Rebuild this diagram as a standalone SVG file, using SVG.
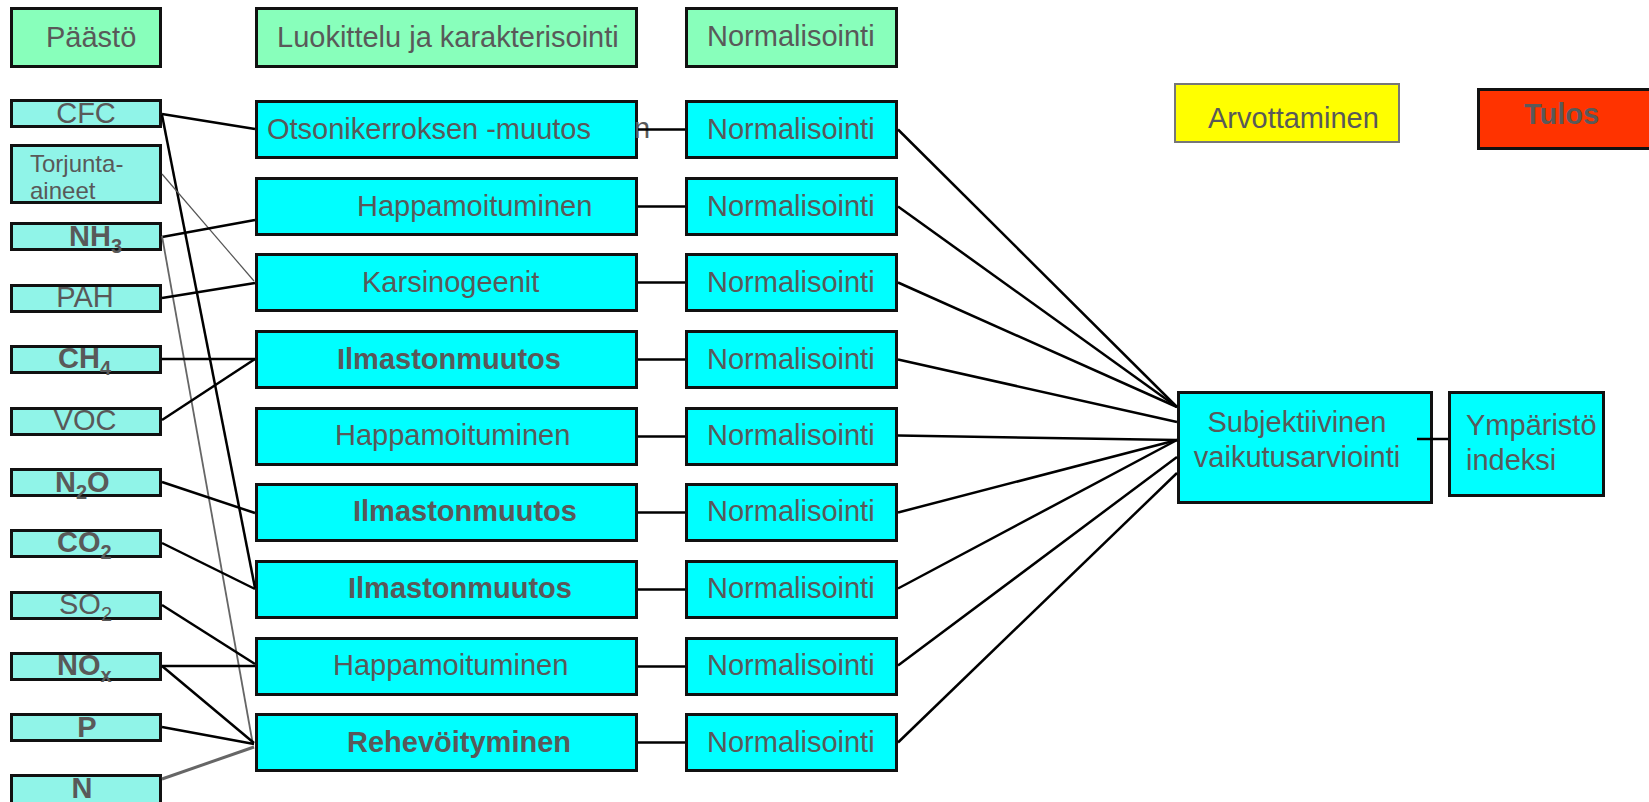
<svg xmlns="http://www.w3.org/2000/svg" width="1649" height="802" viewBox="0 0 1649 802">
<style>
text{font-family:"Liberation Sans",Arial,sans-serif;font-size:29px;fill:#595959}
.b{font-weight:bold}
.sub{font-size:20px}
.sm{font-size:24px}
.hdr{fill:#88FFBB;stroke:#111;stroke-width:3}
.em{fill:#90F4E8;stroke:#111;stroke-width:3}
.cy{fill:#00FFFF;stroke:#111;stroke-width:3}
.c{stroke:#000;stroke-width:2.5;fill:none}
.g1{stroke:#555;stroke-width:1.2;fill:none}
.g2{stroke:#666;stroke-width:1.8;fill:none}
.g3{stroke:#666;stroke-width:3;fill:none}
</style>
<rect width="1649" height="802" fill="#fff"/>
<g id="hdr-paasto"><rect class="hdr" x="11.5" y="8.5" width="149" height="58"/><text x="46" y="47">Päästö</text></g>
<g id="hdr-luokittelu"><rect class="hdr" x="256.5" y="8.5" width="380" height="58"/><text x="277" y="47">Luokittelu ja karakterisointi</text></g>
<g id="hdr-normalisointi"><rect class="hdr" x="686.5" y="8.5" width="210" height="58"/><text x="707" y="46">Normalisointi</text></g>
<g id="arvottaminen"><rect x="1175" y="84" width="224" height="58" fill="#FFFF00" stroke="#777" stroke-width="2"/><text x="1208" y="128">Arvottaminen</text></g>
<g id="tulos"><rect x="1478.5" y="89.5" width="190" height="59" fill="#FF3300" stroke="#111" stroke-width="3"/><text class="b" x="1524" y="124">Tulos</text></g>

<g id="e-cfc"><rect class="em" x="11.5" y="100.5" width="149" height="26"/><text x="86" y="123" text-anchor="middle">CFC</text></g>
<g id="e-torjunta"><rect class="em" x="11.5" y="145.5" width="149" height="57"/><text class="sm" x="30" y="172">Torjunta-</text><text class="sm" x="30" y="199">aineet</text></g>
<g id="e-nh3"><rect class="em" x="11.5" y="223.5" width="149" height="26"/><text class="b" x="69" y="246">NH<tspan class="sub" dy="7">3</tspan></text></g>
<g id="e-pah"><rect class="em" x="11.5" y="285.5" width="149" height="26"/><text x="85" y="307" text-anchor="middle">PAH</text></g>
<g id="e-ch4"><rect class="em" x="11.5" y="346.5" width="149" height="26"/><text class="b" x="58" y="368">CH<tspan class="sub" dy="7">4</tspan></text></g>
<g id="e-voc"><rect class="em" x="11.5" y="408.5" width="149" height="26"/><text x="85" y="430" text-anchor="middle">VOC</text></g>
<g id="e-n2o"><rect class="em" x="11.5" y="469.5" width="149" height="26"/><text class="b" x="55" y="492">N<tspan class="sub" dy="7">2</tspan><tspan dy="-7">O</tspan></text></g>
<g id="e-co2"><rect class="em" x="11.5" y="530.5" width="149" height="26"/><text class="b" x="57" y="552">CO<tspan class="sub" dy="7">2</tspan></text></g>
<g id="e-so2"><rect class="em" x="11.5" y="592.5" width="149" height="26"/><text x="59" y="614">SO<tspan class="sub" dy="7">2</tspan></text></g>
<g id="e-nox"><rect class="em" x="11.5" y="653.5" width="149" height="26"/><text class="b" x="57" y="675">NO<tspan class="sub" dy="7">x</tspan></text></g>
<g id="e-p"><rect class="em" x="11.5" y="714.5" width="149" height="26"/><text class="b" x="87" y="737" text-anchor="middle">P</text></g>
<g id="e-n"><rect class="em" x="11.5" y="775.5" width="149" height="40"/><text class="b" x="82" y="798" text-anchor="middle">N</text></g>

<g id="c1"><rect class="cy" x="256.5" y="101.5" width="380" height="56"/><text x="267" y="139">Otsonikerroksen -muutos</text><text x="634" y="138">n</text></g>
<g id="c2"><rect class="cy" x="256.5" y="178.5" width="380" height="56"/><text x="357" y="216">Happamoituminen</text></g>
<g id="c3"><rect class="cy" x="256.5" y="254.5" width="380" height="56"/><text x="362" y="292">Karsinogeenit</text></g>
<g id="c4"><rect class="cy" x="256.5" y="331.5" width="380" height="56"/><text class="b" x="337" y="369">Ilmastonmuutos</text></g>
<g id="c5"><rect class="cy" x="256.5" y="408.5" width="380" height="56"/><text x="335" y="445">Happamoituminen</text></g>
<g id="c6"><rect class="cy" x="256.5" y="484.5" width="380" height="56"/><text class="b" x="353" y="521">Ilmastonmuutos</text></g>
<g id="c7"><rect class="cy" x="256.5" y="561.5" width="380" height="56"/><text class="b" x="348" y="598">Ilmastonmuutos</text></g>
<g id="c8"><rect class="cy" x="256.5" y="638.5" width="380" height="56"/><text x="333" y="675">Happamoituminen</text></g>
<g id="c9"><rect class="cy" x="256.5" y="714.5" width="380" height="56"/><text class="b" x="347" y="752">Rehevöityminen</text></g>

<g id="n1"><rect class="cy" x="686.5" y="101.5" width="210" height="56"/><text x="707" y="139">Normalisointi</text></g>
<g id="n2"><rect class="cy" x="686.5" y="178.5" width="210" height="56"/><text x="707" y="216">Normalisointi</text></g>
<g id="n3"><rect class="cy" x="686.5" y="254.5" width="210" height="56"/><text x="707" y="292">Normalisointi</text></g>
<g id="n4"><rect class="cy" x="686.5" y="331.5" width="210" height="56"/><text x="707" y="369">Normalisointi</text></g>
<g id="n5"><rect class="cy" x="686.5" y="408.5" width="210" height="56"/><text x="707" y="445">Normalisointi</text></g>
<g id="n6"><rect class="cy" x="686.5" y="484.5" width="210" height="56"/><text x="707" y="521">Normalisointi</text></g>
<g id="n7"><rect class="cy" x="686.5" y="561.5" width="210" height="56"/><text x="707" y="598">Normalisointi</text></g>
<g id="n8"><rect class="cy" x="686.5" y="638.5" width="210" height="56"/><text x="707" y="675">Normalisointi</text></g>
<g id="n9"><rect class="cy" x="686.5" y="714.5" width="210" height="56"/><text x="707" y="752">Normalisointi</text></g>

<g id="subjektiivinen"><rect class="cy" x="1178.5" y="392.5" width="253" height="110"/><text x="1297" y="432" text-anchor="middle">Subjektiivinen</text><text x="1297" y="467" text-anchor="middle">vaikutusarviointi</text></g>
<g id="ymparisto"><rect class="cy" x="1449.5" y="392.5" width="154" height="103"/><text x="1466" y="435">Ympäristö</text><text x="1466" y="470">indeksi</text></g>

<g id="connectors">
<line class="c" x1="162" y1="114" x2="255" y2="129"/>
<line class="c" x1="162" y1="115" x2="255" y2="588"/>
<line class="g1" x1="162" y1="174" x2="254" y2="281"/>
<line class="c" x1="162" y1="237" x2="255" y2="220"/>
<line class="g2" x1="162" y1="236" x2="253" y2="745"/>
<line class="c" x1="162" y1="298" x2="255" y2="283"/>
<line class="c" x1="162" y1="359" x2="255" y2="359"/>
<line class="c" x1="162" y1="420" x2="255" y2="359"/>
<line class="c" x1="162" y1="482" x2="255" y2="513"/>
<line class="c" x1="162" y1="543" x2="255" y2="589"/>
<line class="c" x1="162" y1="605" x2="255" y2="664"/>
<line class="c" x1="162" y1="666" x2="255" y2="666"/>
<line class="c" x1="162" y1="666" x2="254" y2="743"/>
<line class="c" x1="162" y1="727" x2="254" y2="744"/>
<line class="g3" x1="162" y1="779" x2="254" y2="747"/>
<line class="c" x1="638" y1="129.5" x2="685" y2="129.5"/>
<line class="c" x1="638" y1="206.5" x2="685" y2="206.5"/>
<line class="c" x1="638" y1="282.5" x2="685" y2="282.5"/>
<line class="c" x1="638" y1="359.5" x2="685" y2="359.5"/>
<line class="c" x1="638" y1="436.5" x2="685" y2="436.5"/>
<line class="c" x1="638" y1="512.5" x2="685" y2="512.5"/>
<line class="c" x1="638" y1="589.5" x2="685" y2="589.5"/>
<line class="c" x1="638" y1="666.5" x2="685" y2="666.5"/>
<line class="c" x1="638" y1="742.5" x2="685" y2="742.5"/>
<line class="c" x1="898" y1="129.5" x2="1177" y2="407"/>
<line class="c" x1="898" y1="206.5" x2="1177" y2="407"/>
<line class="c" x1="898" y1="282.5" x2="1177" y2="407"/>
<line class="c" x1="898" y1="359.5" x2="1177" y2="422"/>
<line class="c" x1="898" y1="435.5" x2="1177" y2="440"/>
<line class="c" x1="898" y1="512.5" x2="1177" y2="440"/>
<line class="c" x1="898" y1="588.5" x2="1177" y2="440"/>
<line class="c" x1="898" y1="665.5" x2="1177" y2="457"/>
<line class="c" x1="898" y1="742.5" x2="1177" y2="473"/>
<line class="c" x1="1417" y1="439" x2="1448" y2="439"/>
</g>
</svg>
